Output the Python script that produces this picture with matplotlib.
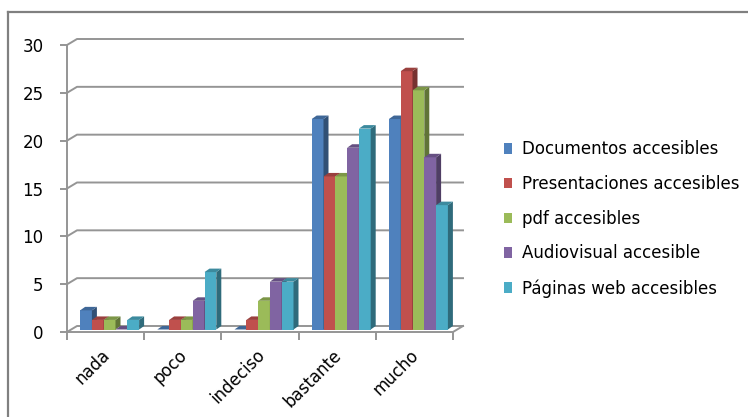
import numpy as np
import matplotlib.pyplot as plt
from matplotlib.patches import Polygon
from matplotlib.lines import Line2D
from matplotlib.transforms import ScaledTranslation

categories = ['nada', 'poco', 'indeciso', 'bastante', 'mucho']
series_names = ['Documentos accesibles', 'Presentaciones accesibles', 'pdf accesibles',
                'Audiovisual accesible', 'Páginas web accesibles']
documentos = [2, 0, 0, 22, 22]
presentaciones = [1, 1, 1, 16, 27]
pdf = [1, 1, 3, 16, 25]
audiovisual = [0, 3, 5, 19, 18]
paginas = [1, 6, 5, 21, 13]
colors = ['#4F81BD', '#C0504D', '#9BBB59', '#8064A2', '#4BACC6']

series = [documentos, presentaciones, pdf, audiovisual, paginas]


def shade(c, f):
    r, g, b = [int(c[i:i + 2], 16) / 255 for i in (1, 3, 5)]
    return (r * f, g * f, b * f)


W, H = 748, 417
fig = plt.figure(figsize=(W / 100, H / 100), dpi=100)

# plot area (front axis) in pixels
x0, x1, y0, y1 = 67, 453, 332, 45
ax = fig.add_axes([x0 / W, (H - y0) / H, (x1 - x0) / W, (y0 - y1) / H])
ax.set_xlim(0, len(categories))
ax.set_ylim(0, 30)
sx = len(categories) / (x1 - x0)   # data units per pixel
sy = 30 / (y0 - y1)

grid_c = '#959595'
wx, wy = 10 * sx, 6 * sy   # back wall depth
for yv in range(0, 31, 5):
    ax.plot([0, wx, len(categories) + wx], [yv, yv + wy, yv + wy],
            color=grid_c, lw=1.4, clip_on=False, zorder=1)
# floor
ax.plot([0, len(categories), len(categories) + wx], [0, 0, wy],
        color=grid_c, lw=1.4, clip_on=False, zorder=1)

for s in ['top', 'right', 'bottom']:
    ax.spines[s].set_visible(False)
ax.spines['left'].set_color(grid_c)
ax.spines['left'].set_linewidth(1.4)
ax.patch.set_visible(False)

# bars with a fake 3d look
bw = 11.8 * sx
dx, dy = 5 * sx, 3.5 * sy
base = 2.5 * sy
shift = 4 * sx
idx = np.arange(len(categories))
for j, vals in enumerate(series):
    lefts = idx + 0.5 + shift - 2.5 * bw + j * bw
    ax.bar(lefts, vals, width=bw, bottom=base, align='edge', color=colors[j],
           linewidth=0, zorder=3 + j, clip_on=False, label=series_names[j])
    for l, v in zip(lefts, vals):
        top = base + v
        side = [(l + bw, base), (l + bw, top), (l + bw + dx, top + dy), (l + bw + dx, base + dy)]
        lid = [(l, top), (l + bw, top), (l + bw + dx, top + dy), (l + dx, top + dy)]
        ax.add_patch(Polygon(side, closed=True, color=shade(colors[j], 0.62), lw=0,
                             zorder=3 + j, clip_on=False))
        ax.add_patch(Polygon(lid, closed=True, color=shade(colors[j], 0.8), lw=0,
                             zorder=3 + j, clip_on=False))

ax.set_yticks(range(0, 31, 5))
ax.tick_params(axis='y', direction='out', length=5, width=1.4, color=grid_c,
               labelsize=12, pad=12)
ax.set_xticks(idx + 0.5)
ax.set_xticklabels(categories, rotation=45, ha='right', rotation_mode='anchor')
ax.set_xticks(np.arange(len(categories) + 1), minor=True)
ax.tick_params(axis='x', which='major', length=0, labelsize=12, pad=8)
ax.tick_params(axis='x', which='minor', direction='out', length=6, width=1.4, color=grid_c)
for lab in ax.get_xticklabels():
    lab.set_transform(lab.get_transform() + ScaledTranslation(-0.045, -0.03, fig.dpi_scale_trans))

leg = fig.legend(loc='center left', bbox_to_anchor=(504 / W, 1 - 219 / H), frameon=False,
                 fontsize=12, handlelength=0.5, handleheight=0.6, handletextpad=0.6,
                 labelspacing=1.0, borderpad=0, borderaxespad=0)

# outer frame (only top and left visible)
fig.add_artist(Line2D([8 / W, 1], [1 - 12 / H, 1 - 12 / H], color='#808080', lw=1.6))
fig.add_artist(Line2D([8 / W, 8 / W], [0, 1 - 12 / H], color='#808080', lw=1.6))

fig.savefig('out.png', dpi=100)
